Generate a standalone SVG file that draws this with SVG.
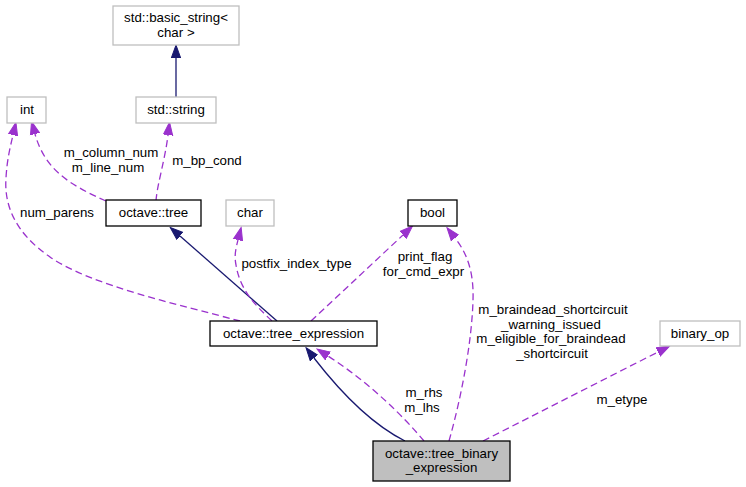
<svg xmlns="http://www.w3.org/2000/svg" width="746" height="487" viewBox="0 0 746 487">
<style>
text{font-family:"Liberation Sans",Arial,sans-serif;font-size:13.3px;fill:#000;text-anchor:middle}
.doc{fill:#fff;stroke:#000;stroke-width:1.3}
.ext{fill:#fff;stroke:#bfbfbf;stroke-width:1.3}
.cur{fill:#bfbfbf;stroke:#000;stroke-width:1.3}
.inh{fill:none;stroke:#191970;stroke-width:1.3}
.use{fill:none;stroke:#9a32cd;stroke-width:1.3;stroke-dasharray:7,4}
</style>
<defs>
<marker id="an" markerUnits="userSpaceOnUse" markerWidth="14" markerHeight="12" viewBox="0 -6 14 12" refX="0" refY="0" orient="auto">
<path d="M0,-4.7 L13,0 L0,4.7 z" fill="#191970" stroke="#191970" stroke-width="1"/>
</marker>
<marker id="ap" markerUnits="userSpaceOnUse" markerWidth="14" markerHeight="12" viewBox="0 -6 14 12" refX="0" refY="0" orient="auto">
<path d="M0,-4.7 L13,0 L0,4.7 z" fill="#9a32cd" stroke="#9a32cd" stroke-width="1"/>
</marker>
</defs>
<g id="connectors">
<path class="inh" d="M176,97 L176,58" marker-end="url(#an)"/>
<path class="use" d="M156,201 C157,185 165,160 168,135" marker-end="url(#ap)"/>
<path class="use" d="M106,201 C70,185 45,170 35,134" marker-end="url(#ap)"/>
<path class="use" d="M240,321 C180,305 90,285 50,257 C15,233 4,205 6,178 C7,160 10,148 13,135" marker-end="url(#ap)"/>
<path class="inh" d="M277,321 L180,236" marker-end="url(#an)"/>
<path class="use" d="M272,321 C255,305 240,290 236,265 C234,255 236,248 238,240" marker-end="url(#ap)"/>
<path class="use" d="M311,321 L403,235" marker-end="url(#ap)"/>
<path class="use" d="M449,441 C462,395 472,340 473,300 C474,270 466,252 455,238" marker-end="url(#ap)"/>
<path class="inh" d="M405,441 C375,426 345,398 314,358" marker-end="url(#an)"/>
<path class="use" d="M424,441 C405,418 370,383 328,356" marker-end="url(#ap)"/>
<path class="use" d="M483,441 L658,352" marker-end="url(#ap)"/>
<text x="111" y="157">m_column_num</text>
<text x="108" y="172">m_line_num</text>
<text x="207" y="165">m_bp_cond</text>
<text x="57" y="217">num_parens</text>
<text x="296.5" y="268">postfix_index_type</text>
<text x="425" y="261">print_flag</text>
<text x="423.5" y="276">for_cmd_expr</text>
<text x="553" y="314">m_braindead_shortcircuit</text>
<text x="551" y="329">_warning_issued</text>
<text x="551" y="343">m_eligible_for_braindead</text>
<text x="552" y="358">_shortcircuit</text>
<text x="424" y="397">m_rhs</text>
<text x="422" y="412">m_lhs</text>
<text x="622" y="404">m_etype</text>
</g>
<g id="node_basic_string">
<rect class="ext" x="113" y="6" width="126" height="39"/>
<text x="176" y="22">std::basic_string&lt;</text>
<text x="176" y="37">char &gt;</text>
</g>
<g id="node_int">
<rect class="ext" x="7" y="97" width="39" height="26"/>
<text x="27" y="114">int</text>
</g>
<g id="node_string">
<rect class="ext" x="136" y="97" width="80" height="26"/>
<text x="176" y="114">std::string</text>
</g>
<g id="node_tree">
<rect class="doc" x="106" y="200" width="95" height="26"/>
<text x="153.5" y="217">octave::tree</text>
</g>
<g id="node_char">
<rect class="ext" x="226" y="200" width="48" height="26"/>
<text x="250" y="217">char</text>
</g>
<g id="node_bool">
<rect class="doc" x="408" y="200" width="49" height="26"/>
<text x="432.5" y="217">bool</text>
</g>
<g id="node_tree_expression">
<rect class="doc" x="210" y="321" width="167" height="25"/>
<text x="293.5" y="338">octave::tree_expression</text>
</g>
<g id="node_binary_op">
<rect class="ext" x="660" y="321" width="80" height="25"/>
<text x="700" y="338">binary_op</text>
</g>
<g id="node_tree_binary_expression">
<rect class="cur" x="373" y="441" width="137" height="40"/>
<text x="441.5" y="458">octave::tree_binary</text>
<text x="441.5" y="472">_expression</text>
</g>
</svg>
